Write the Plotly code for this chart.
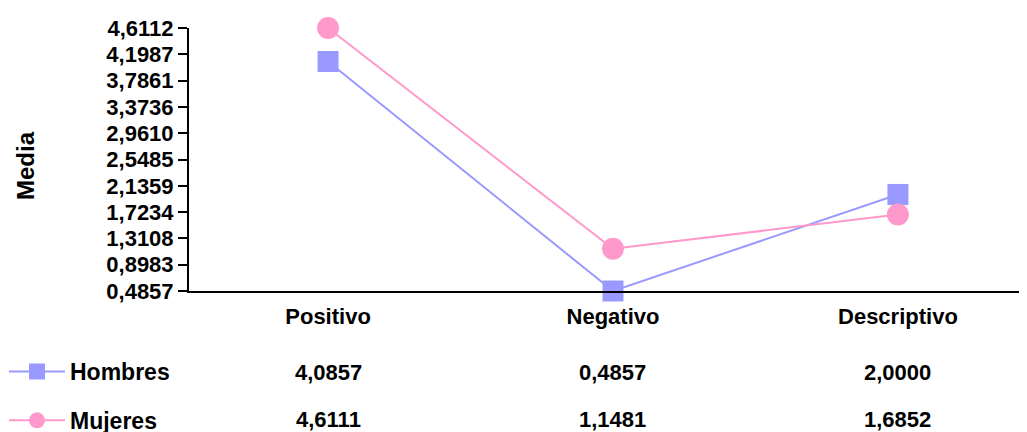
import plotly.graph_objects as go

categories = ["Positivo", "Negativo", "Descriptivo"]
hombres = [4.0857, 0.4857, 2.0000]
mujeres = [4.6111, 1.1481, 1.6852]
y_ticks = [0.4857, 0.8983, 1.3108, 1.7234, 2.1359, 2.5485, 2.9610, 3.3736, 3.7861, 4.1987, 4.6112]
y_labels = [f"{v:.4f}".replace(".", ",") for v in y_ticks]

FONT = "Liberation Sans, Arial, sans-serif"
# page body has an 8px default margin: figure coords = window coords - 8
OFF = 8
W, H = 1027 - OFF, 432 - OFF
L, T, B = 189 - OFF, 28 - OFF, 291 - OFF

fig = go.Figure()
fig.add_trace(go.Scatter(
    x=categories, y=hombres, name="Hombres", mode="lines+markers",
    line=dict(color="#9999FF", width=2),
    marker=dict(symbol="square", size=21, color="#9999FF"),
    cliponaxis=False, legendgroup="h"))
fig.add_trace(go.Scatter(
    x=categories, y=mujeres, name="Mujeres", mode="lines+markers",
    line=dict(color="#FF99CC", width=2),
    marker=dict(symbol="circle", size=22, color="#FF99CC"),
    cliponaxis=False, legendgroup="m"))

ph = B - T
def py(p):
    return (B - (p - OFF)) / ph

def px(p):
    return ((p - OFF) - L) / (W - L)

for vals, row in ((hombres, 372), (mujeres, 419)):
    for c, v in zip(categories, vals):
        fig.add_annotation(x=c, xref="x", y=py(row), yref="paper",
                           text=f"{v:.4f}".replace(".", ","), showarrow=False,
                           font=dict(family=FONT, size=22, color="black", weight="bold"),
                           xanchor="center", yanchor="middle")

fig.add_annotation(x=px(25), xref="paper", y=py(166), yref="paper",
                   text="Media", textangle=-90, showarrow=False,
                   font=dict(family=FONT, size=24, color="black", weight="bold"),
                   xanchor="center", yanchor="middle")

fig.update_layout(
    width=W, height=H,
    margin=dict(l=L, r=0, t=T, b=H - B, autoexpand=False),
    paper_bgcolor="white", plot_bgcolor="white",
    showlegend=True,
    legend=dict(x=px(4), xanchor="left", y=py(350), yanchor="top",
                orientation="v", tracegroupgap=16, itemwidth=56,
                font=dict(family=FONT, size=23, color="black", weight="bold"),
                bgcolor="rgba(0,0,0,0)"),
    xaxis=dict(range=[-0.488, 2.453], showline=True, linecolor="black", linewidth=2,
               ticks="", showgrid=False, zeroline=False,
               tickfont=dict(family=FONT, size=22, color="black", weight="bold"),
               ticklabelstandoff=5),
    yaxis=dict(range=[0.4857, 4.6112], tickvals=y_ticks, ticktext=y_labels,
               showline=True, linecolor="black", linewidth=2,
               ticks="outside", ticklen=9, tickwidth=2, tickcolor="black",
               showgrid=False, zeroline=False,
               tickfont=dict(family=FONT, size=22, color="black", weight="bold")),
)

fig.write_html("out.html")
